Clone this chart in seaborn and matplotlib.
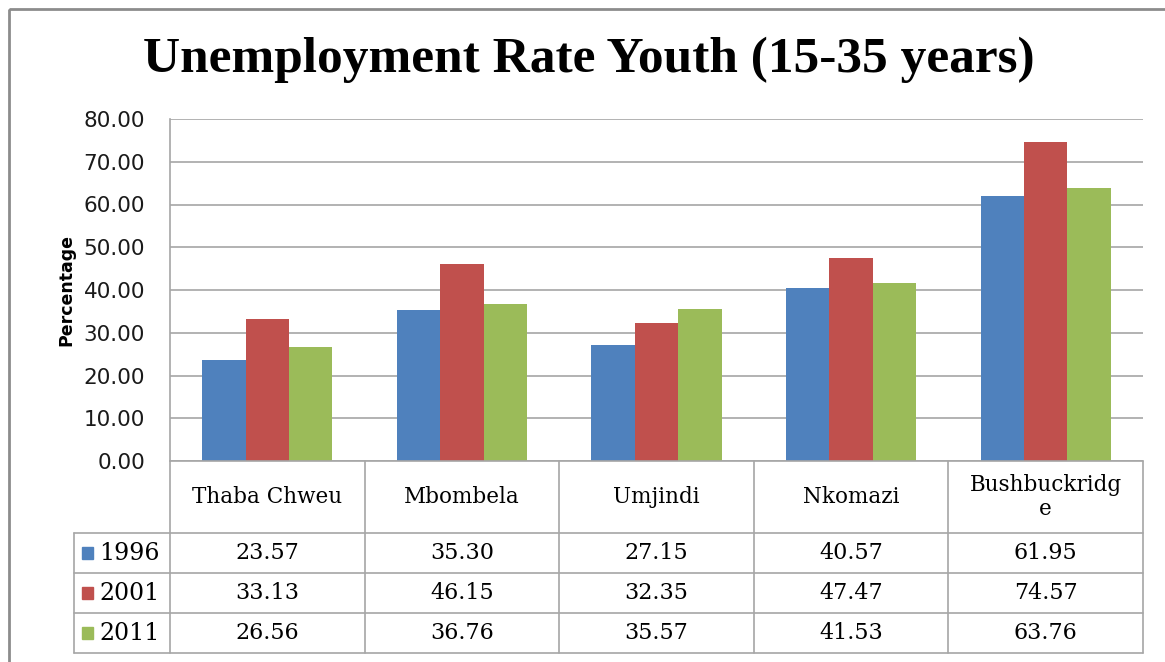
import pandas as pd
import matplotlib.pyplot as plt
import seaborn as sns
from matplotlib.patches import Rectangle

# Jugendarbeitslosigkeit nach Gemeinde, Werte aus der Datentabelle
municipalities = ['Thaba Chweu', 'Mbombela', 'Umjindi', 'Nkomazi', 'Bushbuckridge']
table_labels = ['Thaba Chweu', 'Mbombela', 'Umjindi', 'Nkomazi', 'Bushbuckridg\ne']
years = ['1996', '2001', '2011']
rate_1996 = [23.57, 35.30, 27.15, 40.57, 61.95]
rate_2001 = [33.13, 46.15, 32.35, 47.47, 74.57]
rate_2011 = [26.56, 36.76, 35.57, 41.53, 63.76]
colors = ['#4F81BD', '#C0504D', '#9BBB59']
yticks = [0, 10, 20, 30, 40, 50, 60, 70, 80]

rows = []
for year, vals in zip(years, [rate_1996, rate_2001, rate_2011]):
    for m, v in zip(municipalities, vals):
        rows.append({'Municipality': m, 'Year': year, 'Value': v})
df = pd.DataFrame(rows)

sns.set_style('white')
W, H = 1165, 662
fig = plt.figure(figsize=(W / 100, H / 100), dpi=100)

# Plotbereich in Pixeln
left, right, top, bottom = 170, 1143, 119, 461
ax = fig.add_axes([left / W, 1 - bottom / H, (right - left) / W, (bottom - top) / H])
sns.barplot(data=df, x='Municipality', y='Value', hue='Year', order=municipalities,
            hue_order=years, palette=colors, width=0.67, gap=0, legend=False,
            saturation=1, linewidth=0, ax=ax)
ax.set_xlim(-0.5, len(municipalities) - 0.5)
ax.set_ylim(0, 80)
ax.set_yticks(yticks)
ax.set_yticklabels([f'{t:.2f}' for t in yticks], fontsize=15.5, color='#1a1a1a')
ax.set_xticks([])
ax.set_xlabel('')
ax.set_ylabel('Percentage', fontsize=12.5, fontweight='bold', labelpad=6, color='black')
ax.tick_params(axis='y', length=0, pad=18)
ax.yaxis.grid(True, color='#A6A6A6', linewidth=1.2)
ax.set_axisbelow(True)
for side in ['top', 'right', 'bottom']:
    ax.spines[side].set_visible(False)
ax.spines['left'].set_color('#A6A6A6')
ax.spines['left'].set_linewidth(1.2)

# Overlay in Pixelkoordinaten fuer Titel, Rahmen und Datentabelle
ov = fig.add_axes([0, 0, 1, 1], facecolor='none')
ov.set_xlim(0, W)
ov.set_ylim(H, 0)
ov.axis('off')

ov.add_patch(Rectangle((9, 9), W + 20, H + 20, fill=False, edgecolor='#8C8C8C', linewidth=2))
ov.text(589, 60, 'Unemployment Rate Youth (15-35 years)', ha='center', va='center',
        fontsize=37, fontweight='bold', family='Liberation Serif', color='black')

line_kw = dict(color='#A6A6A6', linewidth=1.2)
col_w = (right - left) / len(municipalities)
row_tops = [533, 573, 613, 653]
lab_left = 74

# Linien der Tabelle
ov.plot([left, right], [bottom, bottom], **line_kw)
for y in row_tops:
    ov.plot([lab_left, right], [y, y], **line_kw)
for i in range(len(municipalities) + 1):
    x = left + i * col_w
    ov.plot([x, x], [bottom, row_tops[-1]], **line_kw)
ov.plot([lab_left, lab_left], [row_tops[0], row_tops[-1]], **line_kw)

tfont = dict(family='DejaVu Serif', fontsize=16, ha='center', va='center', color='black')
for i, lab in enumerate(table_labels):
    ov.text(left + (i + 0.5) * col_w, (bottom + row_tops[0]) / 2, lab, linespacing=1.15,
            family='DejaVu Serif', fontsize=15.5, ha='center', va='center', color='black')

for r, (year, vals, c) in enumerate(zip(years, [rate_1996, rate_2001, rate_2011], colors)):
    yc = (row_tops[r] + row_tops[r + 1]) / 2
    ov.add_patch(Rectangle((82, yc - 6), 11, 12, color=c))
    ov.text(99, yc, year, family='DejaVu Serif', fontsize=17, ha='left', va='center', color='black')
    for i, v in enumerate(vals):
        ov.text(left + (i + 0.5) * col_w, yc, f'{v:.2f}', **tfont)

fig.savefig('out.png', dpi=100)
